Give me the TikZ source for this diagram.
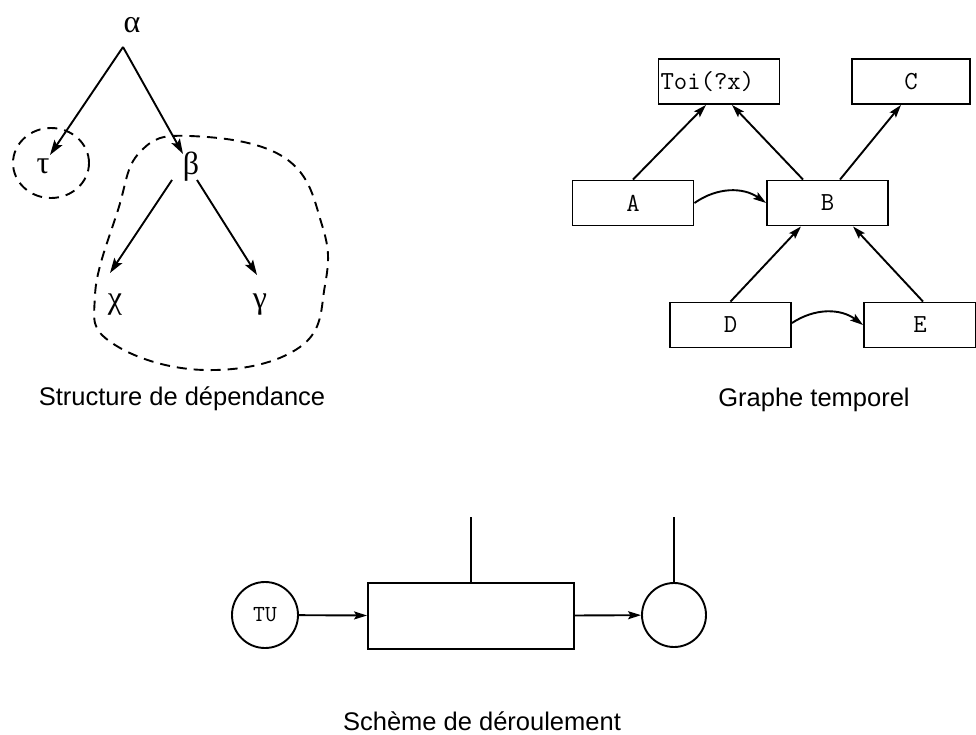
\documentclass[tikz,border=0pt]{standalone}
\usepackage{fontspec}
\setmainfont{Liberation Sans}
\newfontfamily\greekfont{Liberation Serif}
\usetikzlibrary{arrows.meta}

\begin{document}
\begin{tikzpicture}[x=1pt,y=-1pt, line width=1.9pt,
  arr/.style={-{Stealth[length=13pt,width=8pt,inset=2.5pt]}},
  bigarr/.style={-{Stealth[length=15pt,width=9.5pt,inset=3pt]}},
  greek/.style={font=\greekfont\fontsize{32}{34}\selectfont, inner sep=0pt},
  boxn/.style={draw, minimum width=121pt, minimum height=45pt, inner sep=0pt,
    font=\ttfamily\fontsize{26}{30}\selectfont},
  captxt/.style={font=\fontsize{25.5}{30}\selectfont, anchor=base},
  dashcurve/.style={dash pattern=on 10pt off 7pt},
  ring/.style={draw, circle, inner sep=0pt}
]
\useasboundingbox (0,0) rectangle (976,735);

% ---------- Structure de dependance ----------
\node[greek] (a) at (132,25) {α};
\node[greek] (t) at (43,166) {τ};
\node[greek] (b) at (191,167) {β};
\node[greek] (c) at (115,305) {χ};
\node[greek] (g) at (260,305) {γ};

\draw[bigarr] ([xshift=-9pt,yshift=-22pt]a.center) -- ([xshift=7pt,yshift=11pt]t.center);
\draw[bigarr] ([xshift=-9pt,yshift=-22pt]a.center) -- ([xshift=-8pt,yshift=13pt]b.center);
\draw[bigarr] ([xshift=-19pt,yshift=-13pt]b.center) -- ([xshift=-5pt,yshift=32pt]c.center);
\draw[bigarr] ([xshift=6pt,yshift=-13pt]b.center) -- ([xshift=-3pt,yshift=30pt]g.center);

\draw[dashcurve] ([xshift=8pt,yshift=3pt]t.center) ellipse [x radius=38pt, y radius=35pt];
\draw[dashcurve] plot[smooth cycle, tension=0.7] coordinates
  {(140,152) (190,136) (285,158) (322,225) (325,285) (300,347) (205,370) (112,343) (95,295) (118,210)};

\node[captxt] (cap1) at (182,405) {Structure de dépendance};

% ---------- Graphe temporel ----------
\node[boxn, text width=117pt, align=left, inner xsep=2pt] (toi) at (719,81.5) {Toi(?x)};
\node[boxn, minimum width=118pt] (C) at (911,81.5) {C};
\node[boxn] (A) at (633,203) {A};
\node[boxn] (B) at (827.5,203) {B};
\node[boxn] (D) at (730.5,325) {D};
\node[boxn, minimum width=112pt] (E) at (920,325) {E};

\draw[arr] (A.north) -- ([xshift=-13pt]toi.south);
\draw[arr] ([xshift=-24.5pt]B.north) -- ([xshift=13pt]toi.south);
\draw[arr] ([xshift=12.5pt]B.north) -- ([xshift=-10pt]C.south);
\draw[arr] (D.north) -- ([xshift=-26.5pt]B.south);
\draw[arr] ([xshift=3pt]E.north) -- ([xshift=25.5pt]B.south);
\draw[arr] (A.east) to[bend left=35] (B.west);
\draw[arr] ([yshift=2pt]D.east) to[bend left=35] (E.west);

\node[captxt] (cap2) at (814,406) {Graphe temporel};

% ---------- Scheme de deroulement ----------
\node[ring, minimum size=66pt, font=\ttfamily\fontsize{23}{26}\selectfont] (tu) at (265,615) {TU};
\node[draw, minimum width=206pt, minimum height=66pt, inner sep=0pt] (rect) at (471,616) {};
\node[ring, minimum size=64pt] (out) at (674,615) {};
\coordinate (l1) at (471,517);
\coordinate (l2) at (674,517);
\draw (rect.north) -- (l1);
\draw (out.north) -- (l2);
\draw[arr] (tu) -- (rect);
\draw[arr] (rect) -- (out);

\node[captxt] (cap3) at (482,730) {Schème de déroulement};
\end{tikzpicture}
\end{document}
